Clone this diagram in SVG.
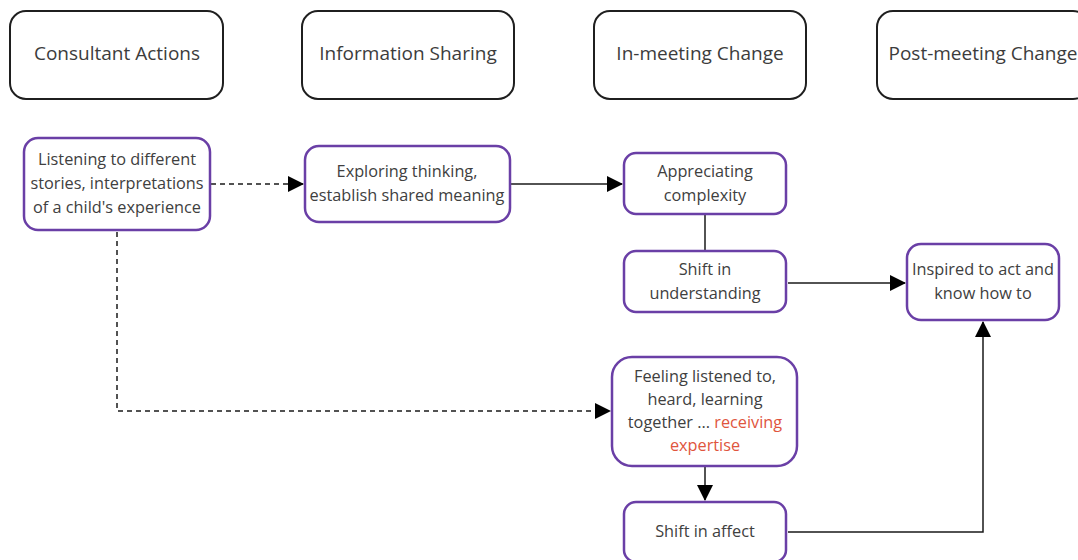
<svg xmlns="http://www.w3.org/2000/svg" width="1078" height="560" viewBox="0 0 1078 560">
  <style>
    .hdr rect { fill: #fff; stroke: #1f1f1f; stroke-width: 2; }
    .hdr text { font-family: "Open Sans", "Noto Sans", sans-serif; font-size: 19px; fill: #3c3c3c; text-anchor: middle; }
    .node rect { fill: #fff; stroke: #6a3fa6; stroke-width: 2.5; }
    .node text { font-family: "Open Sans", "Noto Sans", sans-serif; font-size: 16.3px; fill: #404040; text-anchor: middle; }
    .node .hl { fill: #e0553d; }
    .edge { fill: none; stroke: #1a1a1a; stroke-width: 1.5; }
    .dash { stroke-dasharray: 5 4; }
  </style>
  <defs>
    <marker id="arrow" viewBox="0 0 16 16" refX="15" refY="8" markerWidth="16" markerHeight="16" markerUnits="userSpaceOnUse" orient="auto">
      <path d="M0,0 L16,8 L0,16 Z" fill="#000"/>
    </marker>
  </defs>
  <rect width="1078" height="560" fill="#fff"/>

  <!-- column headers -->
  <g id="hdr-consultant" class="hdr">
    <rect x="10" y="11" width="213" height="88" rx="16"/>
    <text x="117" y="60">Consultant Actions</text>
  </g>
  <g id="hdr-information" class="hdr">
    <rect x="302" y="11" width="212" height="88" rx="16"/>
    <text x="408" y="60">Information Sharing</text>
  </g>
  <g id="hdr-inmeeting" class="hdr">
    <rect x="594" y="11" width="212" height="88" rx="16"/>
    <text x="700" y="60">In-meeting Change</text>
  </g>
  <g id="hdr-postmeeting" class="hdr">
    <rect x="877" y="11" width="212" height="88" rx="16"/>
    <text x="983" y="60">Post-meeting Change</text>
  </g>

  <!-- connectors -->
  <g id="connectors">
    <path class="edge dash" d="M211,184 H303" marker-end="url(#arrow)"/>
    <path class="edge" d="M511,184 H622" marker-end="url(#arrow)"/>
    <path class="edge" d="M705,215 V250"/>
    <path class="edge" d="M788,283 H905" marker-end="url(#arrow)"/>
    <path class="edge dash" d="M117,232 V411 H610" marker-end="url(#arrow)"/>
    <path class="edge" d="M705,467 V500" marker-end="url(#arrow)"/>
    <path class="edge" d="M788,532 H983 V322" marker-end="url(#arrow)"/>
  </g>

  <!-- nodes -->
  <g id="listening" class="node">
    <rect x="24" y="138" width="186" height="92" rx="14"/>
    <text x="117" y="165">Listening to different</text>
    <text x="117" y="189">stories, interpretations</text>
    <text x="117" y="213">of a child's experience</text>
  </g>
  <g id="exploring" class="node">
    <rect x="305" y="146" width="205" height="76" rx="14"/>
    <text x="407" y="177">Exploring thinking,</text>
    <text x="407" y="201">establish shared meaning</text>
  </g>
  <g id="appreciating" class="node">
    <rect x="624" y="153" width="162" height="61" rx="12"/>
    <text x="705" y="177">Appreciating</text>
    <text x="705" y="201">complexity</text>
  </g>
  <g id="understanding" class="node">
    <rect x="624" y="251" width="162" height="61" rx="12"/>
    <text x="705" y="275">Shift in</text>
    <text x="705" y="299">understanding</text>
  </g>
  <g id="inspired" class="node">
    <rect x="907" y="244" width="152" height="76" rx="14"/>
    <text x="983" y="275">Inspired to act and</text>
    <text x="983" y="299">know how to</text>
  </g>
  <g id="feeling" class="node">
    <rect x="612" y="357" width="185" height="109" rx="20"/>
    <text x="705" y="382">Feeling listened to,</text>
    <text x="705" y="405">heard, learning</text>
    <text x="705" y="428">together ... <tspan class="hl">receiving</tspan></text>
    <text x="705" y="451" class="hl">expertise</text>
  </g>
  <g id="affect" class="node">
    <rect x="624" y="502" width="162" height="60" rx="12"/>
    <text x="705" y="537">Shift in affect</text>
  </g>
</svg>
